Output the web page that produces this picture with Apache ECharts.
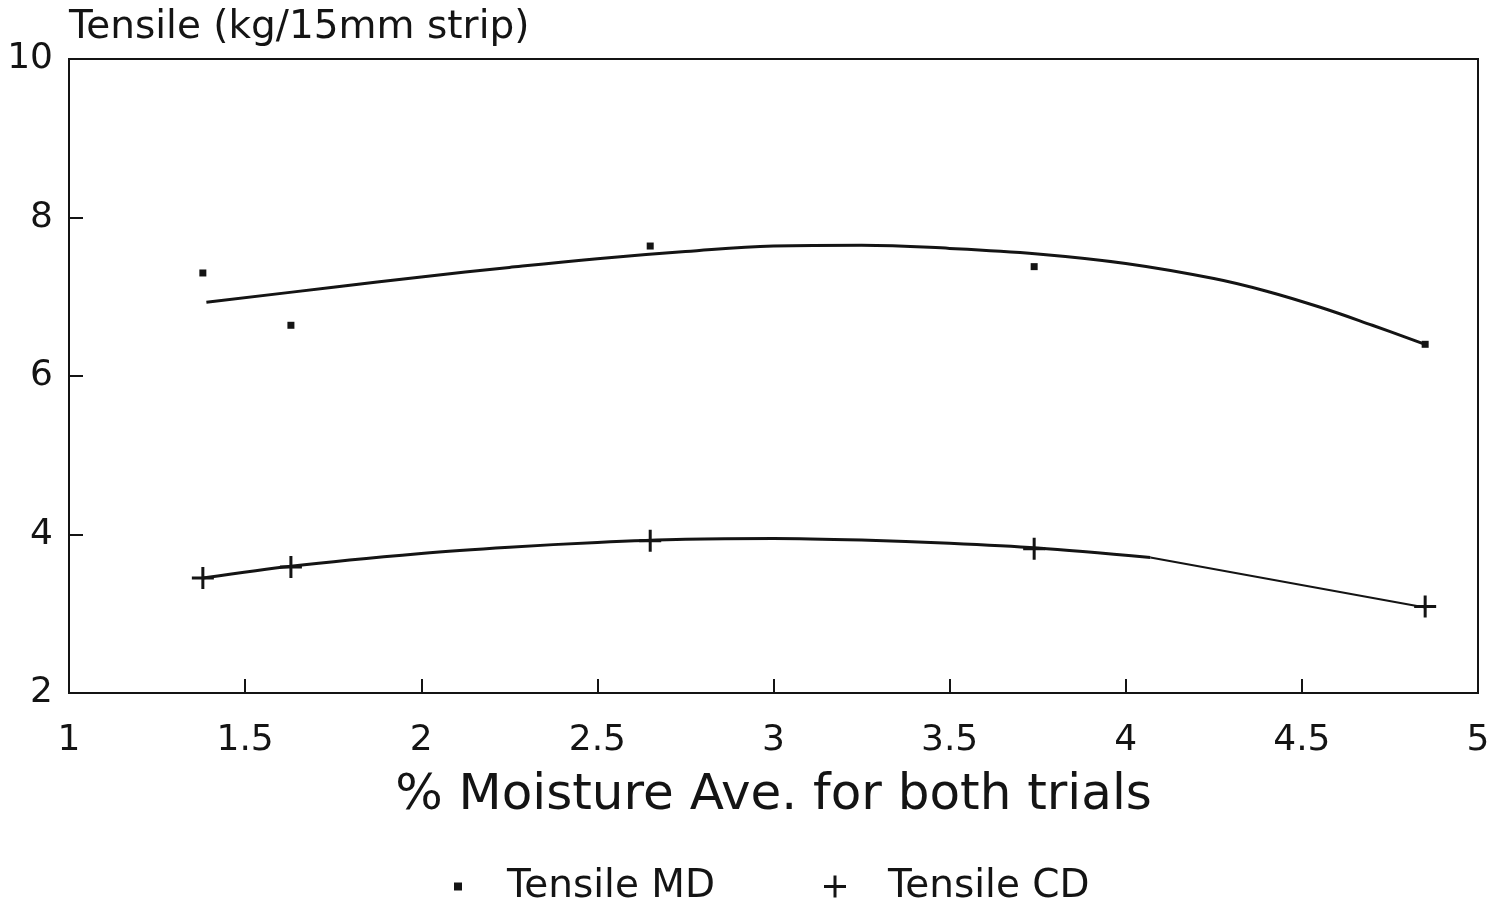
<!DOCTYPE html>
<html>
<head>
<meta charset="utf-8">
<script src="https://cdn.jsdelivr.net/npm/echarts@6/dist/echarts.min.js"></script>
<style>
html,body{margin:0;padding:0;background:#fff;}
#chart{width:1496px;height:905px;}
</style>
</head>
<body>
<div id="chart"></div>
<script>
// Observed data points
var moisture = [1.38, 1.63, 2.65, 3.74, 4.85];
var tensileMD = [7.30, 6.64, 7.64, 7.38, 6.40];
var tensileCD = [3.45, 3.59, 3.92, 3.82, 3.09];

// Fitted curves
var mdFitX = [1.39, 1.75, 2.0, 2.25, 2.5, 2.75, 3.0, 3.25, 3.5, 3.75, 4.0, 4.25, 4.4, 4.55, 4.7, 4.85];
var mdFitY = [6.93, 7.12, 7.25, 7.37, 7.48, 7.57, 7.64, 7.65, 7.61, 7.54, 7.42, 7.23, 7.07, 6.87, 6.64, 6.40];
var cdFitX = [1.38, 1.63, 2.0, 2.25, 2.5, 2.75, 3.0, 3.25, 3.5, 3.75, 4.07];
var cdFitY = [3.45, 3.60, 3.76, 3.84, 3.90, 3.94, 3.95, 3.93, 3.89, 3.83, 3.71];
var cdTailX = [4.07, 4.85];
var cdTailY = [3.71, 3.08];

var xTicks = [1, 1.5, 2, 2.5, 3, 3.5, 4, 4.5, 5];
var yTicks = [2, 4, 6, 8, 10];

function pairs(xs, ys){ return xs.map(function(x,i){ return [x, ys[i]]; }); }

var plusPath = 'path://M9.5,0h3v9.5h9.5v3h-9.5v9.5h-3v-9.5h-9.5v-3h9.5z';
var ink = '#141414';
var font = 'DejaVu Sans';

var chart = echarts.init(document.getElementById('chart'));
chart.setOption({
  backgroundColor: '#ffffff',
  animation: false,
  textStyle: {fontFamily: font, color: ink},
  grid: {left: 69, right: 18, top: 59, bottom: 212, show: true, borderColor: ink, borderWidth: 2, backgroundColor: 'transparent'},
  legend: [
    {data: ['Tensile MD'], top: 862, left: 449, icon: 'rect', itemWidth: 8, itemHeight: 8,
     itemStyle: {opacity: 1},
     textStyle: {fontFamily: font, fontSize: 39, color: ink, padding: [0,0,0,40]}},
    {data: [{name: 'Tensile CD', icon: plusPath}], top: 862, left: 819, itemWidth: 22, itemHeight: 22,
     itemStyle: {opacity: 1},
     textStyle: {fontFamily: font, fontSize: 39, color: ink, padding: [0,0,0,37]}}
  ],
  xAxis: {
    type: 'value', min: xTicks[0], max: xTicks[xTicks.length-1], interval: 0.5,
    name: '% Moisture Ave. for both trials', nameLocation: 'middle', nameGap: 78,
    nameTextStyle: {fontFamily: font, fontSize: 50, color: ink},
    axisLine: {show: true, lineStyle: {color: ink, width: 2}},
    axisTick: {show: true, inside: true, length: 14, lineStyle: {color: ink, width: 2}},
    axisLabel: {fontFamily: font, fontSize: 36, color: ink, margin: 30},
    splitLine: {show: false}
  },
  yAxis: {
    type: 'value', min: yTicks[0], max: yTicks[yTicks.length-1], interval: 2,
    name: 'Tensile (kg/15mm strip)', nameLocation: 'end', nameGap: 12,
    nameTextStyle: {fontFamily: font, fontSize: 39, color: ink, align: 'left'},
    axisLine: {show: true, lineStyle: {color: ink, width: 2}},
    axisTick: {show: true, inside: true, length: 14, lineStyle: {color: ink, width: 2}},
    axisLabel: {fontFamily: font, fontSize: 36, color: ink, margin: 16},
    splitLine: {show: false}
  },
  series: [
    {name: 'Tensile MD', type: 'scatter', data: pairs(moisture, tensileMD),
     symbol: 'rect', symbolSize: 7, itemStyle: {color: ink, opacity: 1}, z: 5},
    {name: 'Tensile CD', type: 'scatter', data: pairs(moisture, tensileCD),
     symbol: plusPath, symbolSize: 22, itemStyle: {color: ink, opacity: 1}, z: 5},
    {name: 'MD fit', type: 'line', data: pairs(mdFitX, mdFitY), smooth: 0.4, showSymbol: false,
     lineStyle: {color: ink, width: 3}},
    {name: 'CD fit', type: 'line', data: pairs(cdFitX, cdFitY), smooth: 0.3, showSymbol: false,
     lineStyle: {color: ink, width: 3}},
    {name: 'CD tail', type: 'line', data: pairs(cdTailX, cdTailY), showSymbol: false,
     lineStyle: {color: ink, width: 2}}
  ]
});
</script>
</body>
</html>
